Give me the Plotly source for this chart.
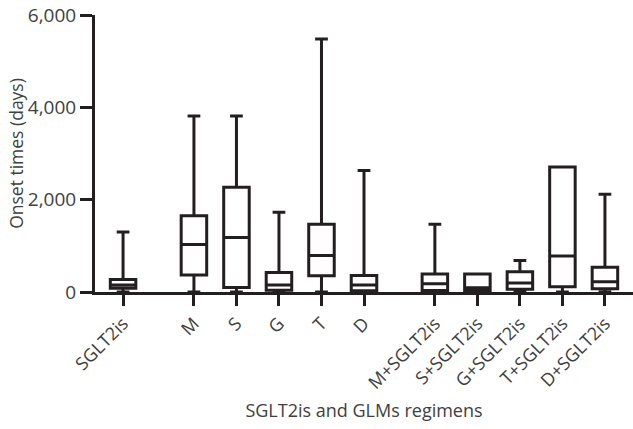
import plotly.graph_objects as go

categories = ["SGLT2is", "M", "S", "G", "T", "D",
              "M+SGLT2is", "S+SGLT2is", "G+SGLT2is", "T+SGLT2is", "D+SGLT2is"]
groups = [0, 1, 1, 1, 1, 1, 2, 2, 2, 2, 2]
mins = [0, 0, 0, 0, 0, 0, 0, 0, 0, 0, 0]
q1 = [80, 370, 100, 40, 350, 25, 30, 30, 60, 115, 70]
medians = [150, 1030, 1180, 150, 790, 150, 180, 90, 195, 780, 220]
q3 = [270, 1650, 2270, 420, 1470, 360, 390, 390, 440, 2710, 535]
maxs = [1300, 3810, 3810, 1730, 5480, 2630, 1470, 390, 680, 2710, 2120]
y_ticks = [0, 2000, 4000, 6000]

GAP = 0.667
positions = [i + g * GAP for i, g in enumerate(groups)]

INK = "#231f20"
TXT = "#404040"
FONT = "Open Sans"

fig = go.Figure()
fig.add_trace(go.Box(
    x=positions,
    q1=q1, median=medians, q3=q3,
    lowerfence=mins, upperfence=maxs,
    width=0.6,
    whiskerwidth=0.5,
    fillcolor="white",
    line=dict(color=INK, width=3),
    boxpoints=False,
    showlegend=False,
    hoverinfo="skip",
))

fig.update_layout(
    width=633, height=429,
    margin=dict(l=95, r=0, t=15, b=137),
    plot_bgcolor="white", paper_bgcolor="white",
    font=dict(family=FONT, color=TXT, size=18),
    xaxis=dict(
        range=[positions[0] - 0.66, positions[-1] + 0.66],
        tickmode="array", tickvals=positions, ticktext=categories,
        tickangle=-45,
        ticks="outside", ticklen=11, tickwidth=3, tickcolor=INK,
        showline=True, linecolor=INK, linewidth=3,
        showgrid=False, zeroline=False, automargin=False,
        ticklabeloverflow="allow",
        tickfont=dict(family=FONT, size=18, color=TXT),
        title=dict(text="SGLT2is and GLMs regimens",
                   font=dict(family=FONT, size=18, color=TXT), standoff=12),
    ),
    yaxis=dict(
        range=[0, 6000],
        tickmode="array", tickvals=y_ticks,
        tickformat=",",
        ticks="outside", ticklen=12, tickwidth=3, tickcolor=INK,
        showline=True, linecolor=INK, linewidth=3,
        showgrid=False, zeroline=False, automargin=False,
        ticklabeloverflow="allow",
        tickfont=dict(family=FONT, size=19, color=TXT),
        title=dict(text="Onset times (days)",
                   font=dict(family=FONT, size=17.5, color=TXT), standoff=0),
    ),
)

# remove the browser's default 8px body margin so the figure fills the window
fig.write_html("out.html", config={"displayModeBar": False},
               post_script="document.body.style.margin='0';")
